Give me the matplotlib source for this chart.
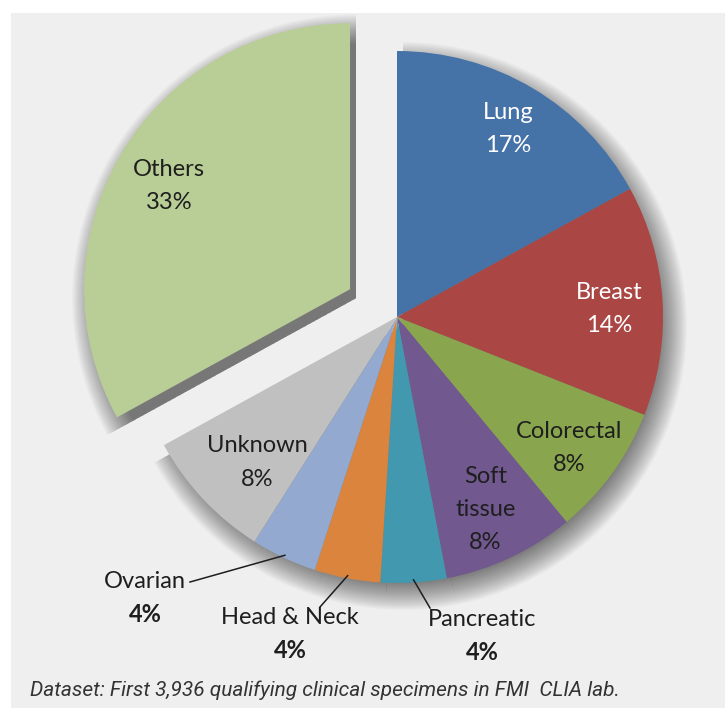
import matplotlib
matplotlib.use('Agg')
import matplotlib.pyplot as plt
from matplotlib.patches import Rectangle
import numpy as np

# ---- data ----
categories = ['Lung', 'Breast', 'Colorectal', 'Soft tissue', 'Pancreatic',
              'Head & Neck', 'Ovarian', 'Unknown', 'Others']
label_text = ['Lung', 'Breast', 'Colorectal', 'Soft\ntissue', 'Pancreatic',
              'Head & Neck', 'Ovarian', 'Unknown', 'Others']
values = [17, 14, 8, 8, 4, 4, 4, 8, 33]
pct_labels = ['17%', '14%', '8%', '8%', '4%', '4%', '4%', '8%', '33%']
footer = 'Dataset: First 3,936 qualifying clinical specimens in FMI  CLIA lab.'

# ---- style ----
colors = ['#4572A7', '#AA4643', '#89A54E', '#71588F', '#4198AF',
          '#DB843D', '#93A9CF', '#C0C0C0', '#B9CD96']
text_colors = ['white', 'white', '#1e1e1e', '#1e1e1e', '#1e1e1e',
               '#1e1e1e', '#1e1e1e', '#1e1e1e', '#1e1e1e']
inside_r = [0.82, 0.80, 0.80, 0.78, None, None, None, 0.75, 0.79]
# fine label nudges in pixels (dx, dy downwards)
nudge = [(0, 0), (0, 5), (0, 6), (0, 5), None, None, None, (6, 9), (0, 4)]
FONT = 'Lato'

W, H = 725, 708
fig = plt.figure(figsize=(7.25, 7.08), dpi=100)
fig.patch.set_facecolor('white')
ax = fig.add_axes([0, 0, 1, 1])
ax.add_patch(Rectangle((11, 0), W - 11, H - 13, facecolor='#efefef',
                       edgecolor='none', zorder=0))

cx, cy, R = 397, H - 317, 266
exp_off = 0.205 * R
explode = [0, 0, 0, 0, 0, 0, 0, 0, exp_off]

# soft drop shadow (stacked translucent layers for a blurred look)
nlay = 26
for k in range(nlay):
    r = R - 12 + k * 1.2
    ws, _ = ax.pie(values, radius=r, center=(cx + 6, cy - 9), explode=explode,
                   startangle=90, counterclock=False,
                   colors=['#000000'] * len(values),
                   wedgeprops=dict(alpha=0.022, linewidth=0), frame=True)
    for w in ws:
        w.set_zorder(1)

wedges, _ = ax.pie(values, radius=R, center=(cx, cy), explode=explode,
                   startangle=90, counterclock=False, colors=colors,
                   wedgeprops=dict(linewidth=0), frame=True)
for w in wedges:
    w.set_zorder(2)

# inside labels
for i, w in enumerate(wedges):
    if inside_r[i] is None:
        continue
    mid = np.deg2rad((w.theta1 + w.theta2) / 2)
    wx, wy = w.center
    x = wx + inside_r[i] * R * np.cos(mid) + nudge[i][0]
    y = wy + inside_r[i] * R * np.sin(mid) - nudge[i][1]
    ax.text(x, y, label_text[i] + '\n' + pct_labels[i], ha='center',
            va='center', fontsize=17, family=FONT, color=text_colors[i],
            linespacing=1.72, zorder=5)

# outside labels with leader lines (layout positions in pixel coords)
outside = {4: ((430, 608), (482, 619), (482, 652)),
           5: ((320, 607), (290, 617), (290, 650)),
           6: ((190, 582), (145, 581), (145, 614))}
for i, (lend, lpos, ppos) in outside.items():
    w = wedges[i]
    mid = np.deg2rad((w.theta1 + w.theta2) / 2)
    wx, wy = w.center
    x0 = wx + 0.99 * R * np.cos(mid)
    y0 = wy + 0.99 * R * np.sin(mid)
    ax.plot([x0, lend[0]], [y0, H - lend[1]], color='#1e1e1e', lw=1.1,
            zorder=4)
    ax.text(lpos[0], H - lpos[1], label_text[i], ha='center', va='center',
            fontsize=17, family=FONT, color='#1e1e1e', zorder=5)
    ax.text(ppos[0], H - ppos[1], pct_labels[i], ha='center', va='center',
            fontsize=17, family=FONT, fontweight='bold', color='#1e1e1e',
            zorder=5)

ax.text(30, H - 690, footer, ha='left', va='center', fontsize=15,
        family='Roboto', style='italic', color='#333333', zorder=5)

ax.set_xlim(0, W)
ax.set_ylim(0, H)
ax.set_aspect('auto')
ax.axis('off')
fig.savefig('out.png', dpi=100, facecolor='white')
